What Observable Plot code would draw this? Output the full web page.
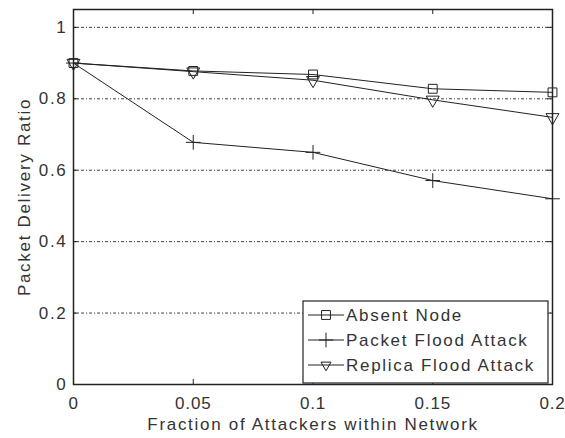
<!DOCTYPE html>
<html>
<head>
<meta charset="utf-8">
<script src="https://cdn.jsdelivr.net/npm/d3@7"></script>
<script src="https://cdn.jsdelivr.net/npm/@observablehq/plot@0.6"></script>
<style>
  html, body { margin: 0; padding: 0; background: #fff; }
  svg text { letter-spacing: 1.7px; }
  svg g[aria-label="x-axis tick label"] text { letter-spacing: 0.8px; }
</style>
</head>
<body>
<div id="chart"></div>
<script>
const fractions = [0, 0.05, 0.1, 0.15, 0.2];
const absentNode = [0.9, 0.878, 0.868, 0.828, 0.818];
const packetFlood = [0.9, 0.678, 0.65, 0.571, 0.52];
const replicaFlood = [0.9, 0.876, 0.852, 0.797, 0.748];
const seriesNames = ["Absent Node", "Packet Flood Attack", "Replica Flood Attack"];
const xTicks = [0, 0.05, 0.1, 0.15, 0.2];
const yTicks = [0, 0.2, 0.4, 0.6, 0.8, 1];
const xLabel = "Fraction of Attackers within Network";
const yLabel = "Packet Delivery Ratio";

const seriesValues = [absentNode, packetFlood, replicaFlood];
const rows = seriesNames.flatMap((name, i) =>
  fractions.map((f, j) => ({series: name, x: f, y: seriesValues[i][j]})));
const bySeries = name => rows.filter(d => d.series === name);

const W = 565, H = 438;
const mL = 73, mR = 13, mT = 9, mB = 54;
const plotW = W - mL - mR, plotH = H - mT - mB;
const ink = "#222";
const textColor = "#333";
const font = "'Liberation Sans', Arial, Helvetica, sans-serif";

const markers = [
  {symbol: "square", r: 5, rotate: 0},
  {symbol: "plus", r: 4.8, rotate: 0},
  {symbol: "triangle", r: 4.8, rotate: 180}
];

const chart = Plot.plot({
  width: W,
  height: H,
  marginLeft: mL, marginRight: mR, marginTop: mT, marginBottom: mB,
  style: {fontFamily: font, fontSize: "17px", color: textColor, background: "#fff"},
  x: {domain: [0, 0.2], ticks: xTicks},
  y: {domain: [0, 1.05], ticks: yTicks},
  marks: [
    Plot.ruleY(yTicks.filter(t => t > 0), {stroke: ink, strokeWidth: 1, strokeDasharray: "3,2,1,2", strokeOpacity: 0.85}),
    Plot.tickX(xTicks, {x: d => d, stroke: ink, insetTop: plotH - 5}),
    Plot.tickX(xTicks, {x: d => d, stroke: ink, insetBottom: plotH - 5}),
    Plot.tickY(yTicks, {y: d => d, stroke: ink, insetRight: plotW - 5}),
    Plot.tickY(yTicks, {y: d => d, stroke: ink, insetLeft: plotW - 5}),
    Plot.axisX({ticks: xTicks, tickSize: 0, tickPadding: 12, tickFormat: d => String(d), label: null, fill: textColor}),
    Plot.axisY({ticks: yTicks, tickSize: 0, tickPadding: 6, tickFormat: d => String(d), label: null, fill: textColor}),
    Plot.frame({stroke: ink, strokeWidth: 1.5}),
    ...seriesNames.map((name, i) => Plot.line(bySeries(name), {x: "x", y: "y", stroke: ink, strokeWidth: 1})),
    ...seriesNames.map((name, i) => Plot.dot(bySeries(name), {
      x: "x", y: "y", symbol: markers[i].symbol, r: markers[i].r, rotate: markers[i].rotate,
      stroke: ink, strokeWidth: 1, fill: "none"
    })),
    Plot.text([xLabel], {frameAnchor: "bottom", lineAnchor: "middle", textAnchor: "middle", dy: 40, text: d => d, fill: textColor, fontSize: 17}),
    Plot.text([yLabel], {frameAnchor: "left", lineAnchor: "middle", textAnchor: "middle", dx: -49, rotate: -90, text: d => d, fill: textColor, fontSize: 17})
  ]
});

document.getElementById("chart").appendChild(chart);

// Legend (layout only) inside the plot area, lower right
const svg = d3.select(chart);
const lg = svg.append("g").attr("font-family", font).attr("font-size", 17).attr("text-anchor", "start");
const lx = 303, ly = 301, lw = 245, lh = 82;
lg.append("rect").attr("x", lx).attr("y", ly).attr("width", lw).attr("height", lh)
  .attr("fill", "#fff").attr("stroke", ink).attr("stroke-width", 1.2);
const symMap = {square: d3.symbolSquare, plus: d3.symbolPlus, triangle: d3.symbolTriangle2};
seriesNames.forEach((name, i) => {
  const cy = ly + 14 + i * 25;
  lg.append("line").attr("x1", lx + 5).attr("x2", lx + 41).attr("y1", cy).attr("y2", cy)
    .attr("stroke", ink).attr("stroke-width", 1);
  const m = markers[i];
  lg.append("path")
    .attr("d", d3.symbol(symMap[m.symbol], m.r * m.r * Math.PI)())
    .attr("transform", `translate(${lx + 23},${cy}) rotate(${m.rotate})`)
    .attr("fill", "none").attr("stroke", ink).attr("stroke-width", 1);
  lg.append("text").attr("x", lx + 43).attr("y", cy).attr("dy", "0.35em")
    .attr("text-anchor", "start").attr("fill", textColor).text(name);
});
</script>
</body>
</html>
